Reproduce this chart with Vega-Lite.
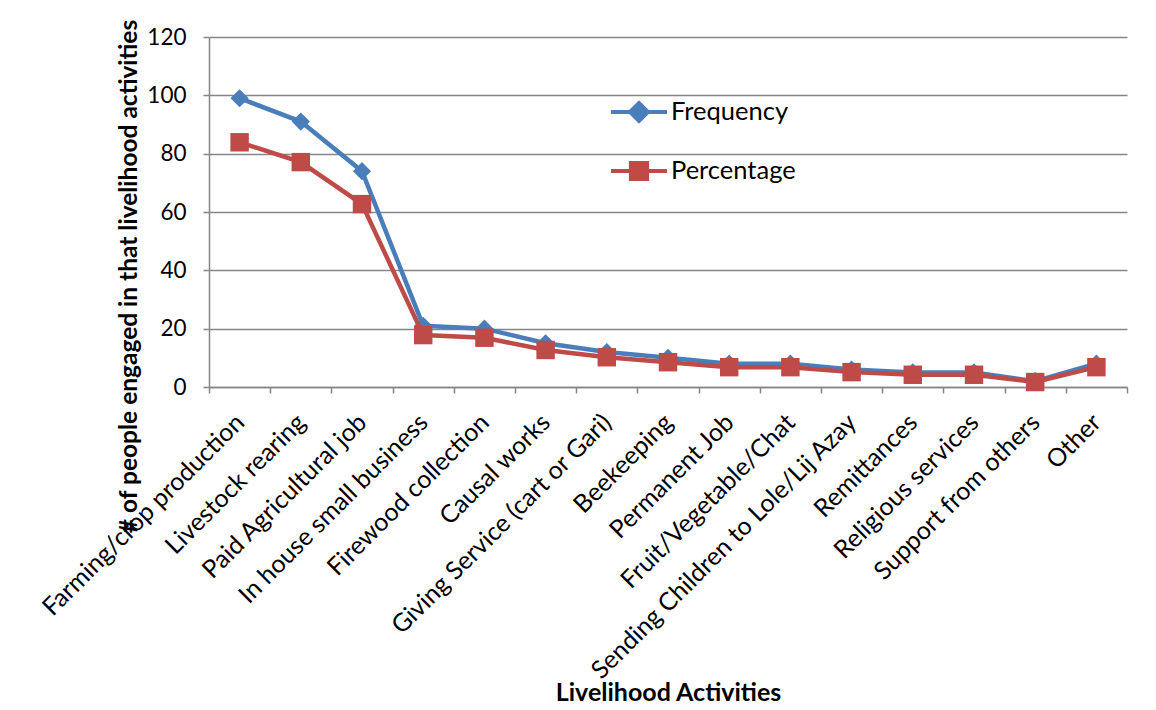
{
  "$schema": "https://vega.github.io/schema/vega-lite/v6.json",
  "autosize": "none",
  "width": 918,
  "height": 350,
  "padding": {"left": 209, "top": 37, "right": 29, "bottom": 323},
  "background": "white",
  "config": {
    "font": "Lato",
    "view": {"stroke": null},
    "axis": {"labelFont": "Lato", "titleFont": "Lato", "labelColor": "#000", "titleColor": "#000"},
    "legend": {"labelFont": "Lato", "labelColor": "#000"}
  },
  "data": {
    "values": [
      {"activity": "Farming/crop production", "series": "Frequency", "value": 99},
      {"activity": "Livestock rearing", "series": "Frequency", "value": 91},
      {"activity": "Paid Agricultural job", "series": "Frequency", "value": 74},
      {"activity": "In house small business", "series": "Frequency", "value": 21},
      {"activity": "Firewood collection", "series": "Frequency", "value": 20},
      {"activity": "Causal works", "series": "Frequency", "value": 15},
      {"activity": "Giving Service (cart or Gari)", "series": "Frequency", "value": 12},
      {"activity": "Beekeeping", "series": "Frequency", "value": 10},
      {"activity": "Permanent Job", "series": "Frequency", "value": 8},
      {"activity": "Fruit/Vegetable/Chat", "series": "Frequency", "value": 8},
      {"activity": "Sending Children to Lole/Lij Azay", "series": "Frequency", "value": 6},
      {"activity": "Remittances", "series": "Frequency", "value": 5},
      {"activity": "Religious services", "series": "Frequency", "value": 5},
      {"activity": "Support from others", "series": "Frequency", "value": 2},
      {"activity": "Other", "series": "Frequency", "value": 8},
      {"activity": "Farming/crop production", "series": "Percentage", "value": 83.9},
      {"activity": "Livestock rearing", "series": "Percentage", "value": 77.1},
      {"activity": "Paid Agricultural job", "series": "Percentage", "value": 62.7},
      {"activity": "In house small business", "series": "Percentage", "value": 17.8},
      {"activity": "Firewood collection", "series": "Percentage", "value": 16.9},
      {"activity": "Causal works", "series": "Percentage", "value": 12.7},
      {"activity": "Giving Service (cart or Gari)", "series": "Percentage", "value": 10.2},
      {"activity": "Beekeeping", "series": "Percentage", "value": 8.5},
      {"activity": "Permanent Job", "series": "Percentage", "value": 6.8},
      {"activity": "Fruit/Vegetable/Chat", "series": "Percentage", "value": 6.8},
      {"activity": "Sending Children to Lole/Lij Azay", "series": "Percentage", "value": 5.1},
      {"activity": "Remittances", "series": "Percentage", "value": 4.2},
      {"activity": "Religious services", "series": "Percentage", "value": 4.2},
      {"activity": "Support from others", "series": "Percentage", "value": 1.7},
      {"activity": "Other", "series": "Percentage", "value": 6.8}
    ]
  },
  "encoding": {
    "x": {
      "field": "activity",
      "type": "nominal",
      "sort": null,
      "scale": {"type": "band", "paddingInner": 0, "paddingOuter": 0},
      "axis": {
        "title": "Livelihood Activities",
        "titleFontSize": 25,
        "titleFontWeight": "bold",
        "titleY": 305,
        "titleBaseline": "middle",
        "labelAngle": -45,
        "labelAlign": "right",
        "labelBaseline": "middle",
        "labelFontSize": 25,
        "labelPadding": 25,
        "labelLimit": 500,
        "labelOverlap": false,
        "tickBand": "extent",
        "tickSize": 6,
        "tickColor": "#868686",
        "tickWidth": 1.5,
        "domainColor": "#868686",
        "domainWidth": 1.5,
        "grid": false
      }
    },
    "y": {
      "field": "value",
      "type": "quantitative",
      "scale": {"domain": [0, 120], "nice": false},
      "axis": {
        "title": "# of people engaged in that livelihood activities",
        "titleFontSize": 24.5,
        "titleFontWeight": "bold",
        "titleX": -80,
        "titleY": 239,
        "titleBaseline": "middle",
        "titleAlign": "center",
        "values": [0, 20, 40, 60, 80, 100, 120],
        "labelFontSize": 22.5,
        "labelPadding": 17,
        "tickSize": 6,
        "tickColor": "#868686",
        "tickWidth": 1.5,
        "domainColor": "#868686",
        "domainWidth": 1.5,
        "gridColor": "#868686",
        "gridWidth": 1.5
      }
    },
    "color": {
      "field": "series",
      "type": "nominal",
      "scale": {"domain": ["Frequency", "Percentage"], "range": ["#4A7EBB", "#BE4B48"]},
      "legend": {
        "title": null,
        "orient": "none",
        "legendX": 400,
        "legendY": 45,
        "symbolSize": 3136,
        "symbolStrokeWidth": 4,
        "symbolOpacity": 1,
        "labelFontSize": 25.5,
        "labelOffset": 2,
        "rowPadding": 12,
        "encode": {
          "symbols": {
            "update": {
              "shape": {"signal": "datum.value === 'Frequency' ? 'M-1,0H1M-0.32,0L0,-0.32L0.32,0L0,0.32Z' : 'M-1,0H1M-0.29,-0.29H0.29V0.29H-0.29Z'"},
              "fill": {"signal": "datum.value === 'Frequency' ? '#4A7EBB' : '#BE4B48'"},
              "stroke": {"signal": "datum.value === 'Frequency' ? '#4A7EBB' : '#BE4B48'"},
              "fillOpacity": {"value": 1},
              "strokeWidth": {"value": 4}
            }
          }
        }
      }
    }
  },
  "layer": [
    {
      "transform": [{"filter": "datum.series === 'Frequency'"}],
      "mark": {"type": "line", "strokeWidth": 4.5}
    },
    {
      "transform": [{"filter": "datum.series === 'Frequency'"}],
      "mark": {"type": "point", "shape": "diamond", "size": 330, "filled": true, "opacity": 1}
    },
    {
      "transform": [{"filter": "datum.series === 'Percentage'"}],
      "mark": {"type": "line", "strokeWidth": 4.5}
    },
    {
      "transform": [{"filter": "datum.series === 'Percentage'"}],
      "mark": {"type": "point", "shape": "square", "size": 340, "filled": true, "opacity": 1}
    }
  ]
}
